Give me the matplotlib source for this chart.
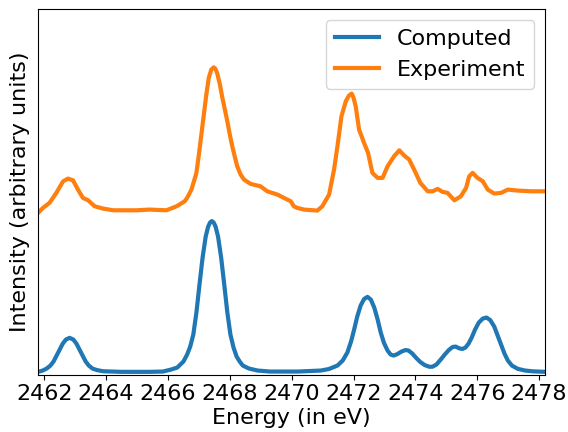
import matplotlib
matplotlib.use('Agg')
import matplotlib.pyplot as plt

# computed spectrum
comp_e = [2461.80, 2461.95, 2462.08, 2462.20, 2462.30, 2462.40, 2462.50, 2462.60, 2462.70,
          2462.82, 2462.94, 2463.04, 2463.14, 2463.24, 2463.34, 2463.44, 2463.56, 2463.70,
          2463.90, 2464.50, 2465.40, 2465.84, 2466.10, 2466.30, 2466.50, 2466.62, 2466.72,
          2466.82, 2466.92, 2467.02, 2467.12, 2467.22, 2467.30, 2467.36, 2467.42, 2467.48,
          2467.54, 2467.62, 2467.72, 2467.82, 2467.92, 2468.02, 2468.12, 2468.22, 2468.32,
          2468.42, 2468.62, 2468.90, 2469.30, 2470.20, 2470.94, 2471.20, 2471.48, 2471.65,
          2471.80, 2471.92, 2472.02, 2472.12, 2472.23, 2472.34, 2472.45, 2472.56, 2472.67,
          2472.78, 2472.88, 2472.98, 2473.10, 2473.20, 2473.30, 2473.42, 2473.55, 2473.68,
          2473.78, 2473.90, 2474.03, 2474.16, 2474.30, 2474.45, 2474.55, 2474.68, 2474.82,
          2474.95, 2475.08, 2475.20, 2475.30, 2475.42, 2475.52, 2475.62, 2475.72, 2475.82,
          2475.93, 2476.05, 2476.18, 2476.30, 2476.42, 2476.55, 2476.66, 2476.77, 2476.88,
          2476.99, 2477.12, 2477.31, 2477.55, 2477.80, 2478.20]
comp_i = [0.027, 0.04, 0.06, 0.09, 0.13, 0.19, 0.25, 0.31, 0.35,
          0.367, 0.35, 0.31, 0.25, 0.19, 0.13, 0.09, 0.06, 0.045,
          0.033, 0.027, 0.027, 0.03, 0.05, 0.07, 0.13, 0.20, 0.28,
          0.40, 0.62, 0.90, 1.17, 1.38, 1.48, 1.52, 1.535, 1.52,
          1.48, 1.38, 1.17, 0.90, 0.62, 0.40, 0.27, 0.18, 0.13,
          0.09, 0.06, 0.04, 0.03, 0.03, 0.04, 0.055, 0.09, 0.14,
          0.22, 0.33, 0.45, 0.58, 0.69, 0.755, 0.777, 0.75, 0.67,
          0.55, 0.42, 0.32, 0.24, 0.20, 0.19, 0.205, 0.23, 0.245,
          0.24, 0.21, 0.165, 0.125, 0.095, 0.078, 0.078, 0.10, 0.15,
          0.20, 0.245, 0.275, 0.28, 0.262, 0.256, 0.27, 0.31, 0.37,
          0.45, 0.52, 0.56, 0.57, 0.545, 0.48, 0.39, 0.30, 0.21,
          0.14, 0.09, 0.057, 0.04, 0.032, 0.027]

# experimental spectrum (offset upwards)
exp_e = [2461.80, 2461.96, 2462.17, 2462.39, 2462.61, 2462.77, 2462.93, 2463.09, 2463.25,
         2463.42, 2463.63, 2463.90, 2464.23, 2464.98, 2465.41, 2465.95, 2466.28, 2466.54,
         2466.62, 2466.76, 2466.84, 2466.92, 2467.00, 2467.08, 2467.16, 2467.24, 2467.32,
         2467.40, 2467.48, 2467.53, 2467.59, 2467.68, 2467.76, 2467.84, 2467.92, 2468.00,
         2468.08, 2468.16, 2468.24, 2468.35, 2468.46, 2468.67, 2468.99, 2469.21, 2469.54,
         2469.86, 2469.97, 2470.07, 2470.18, 2470.40, 2470.83, 2470.99, 2471.21, 2471.37,
         2471.48, 2471.61, 2471.75, 2471.85, 2471.94, 2472.00, 2472.07, 2472.18, 2472.34,
         2472.47, 2472.61, 2472.78, 2472.94, 2473.10, 2473.31, 2473.48, 2473.64, 2473.80,
         2473.96, 2474.16, 2474.40, 2474.56, 2474.72, 2474.88, 2475.04, 2475.26, 2475.47,
         2475.64, 2475.74, 2475.85, 2476.01, 2476.18, 2476.34, 2476.55, 2476.77, 2476.99,
         2477.31, 2477.74, 2478.17]
exp_i = [1.617, 1.667, 1.717, 1.817, 1.933, 1.96, 1.943, 1.85, 1.767,
         1.743, 1.683, 1.66, 1.643, 1.643, 1.65, 1.643, 1.683, 1.733,
         1.767, 1.85, 1.933, 2.017, 2.20, 2.40, 2.60, 2.80, 2.967,
         3.05, 3.073, 3.06, 3.017, 2.90, 2.767, 2.65, 2.533, 2.40,
         2.283, 2.18, 2.083, 2.00, 1.95, 1.907, 1.883, 1.833, 1.80,
         1.75, 1.733, 1.683, 1.667, 1.65, 1.64, 1.683, 1.80, 2.05,
         2.283, 2.583, 2.733, 2.79, 2.81, 2.77, 2.683, 2.45, 2.317,
         2.217, 2.017, 1.967, 1.967, 2.083, 2.183, 2.243, 2.19, 2.15,
         2.05, 1.917, 1.833, 1.833, 1.857, 1.827, 1.817, 1.743, 1.783,
         1.867, 1.983, 2.017, 1.967, 1.933, 1.85, 1.81, 1.817, 1.85,
         1.84, 1.833, 1.833]

fig = plt.figure(figsize=(5.68, 4.32), dpi=100)
ax = fig.add_axes([0.067, 0.133, 0.893, 0.847])

ax.plot(comp_e, comp_i, lw=3, color='#1f77b4', label='Computed')
ax.plot(exp_e, exp_i, lw=3, color='#ff7f0e', label='Experiment')

ax.set_xlim(2461.8, 2478.2)
ax.set_ylim(0, 3.66)
ax.set_xticks(range(2462, 2479, 2))
ax.set_yticks([])
ax.tick_params(axis='x', labelsize=16)
ax.set_xlabel('Energy (in eV)', fontsize=16, labelpad=3)
ax.set_ylabel('Intensity (arbitrary units)', fontsize=16, labelpad=6)
ax.legend(loc='upper right', fontsize=16)

fig.savefig('out.png', dpi=100)
